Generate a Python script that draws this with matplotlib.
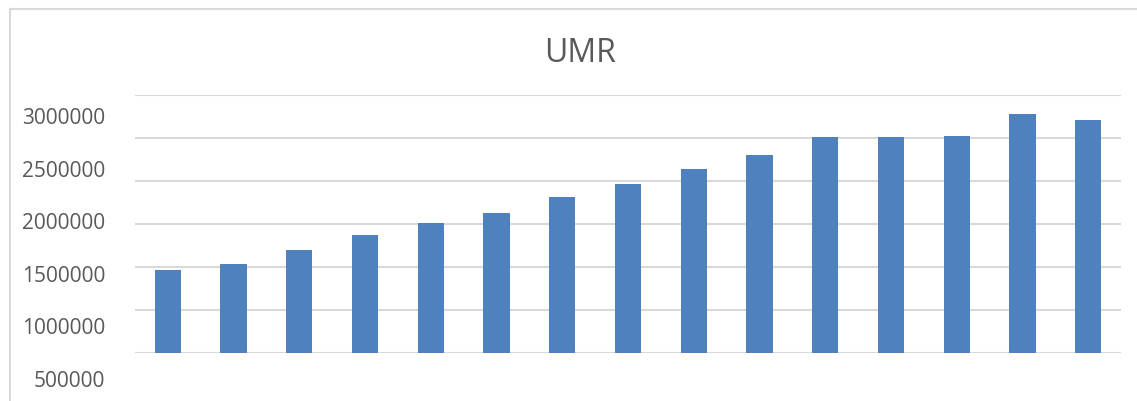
import matplotlib.pyplot as plt
from matplotlib.lines import Line2D

# UMR values (axis bottom is 500000)
categories = list(range(1, 16))
umr = [1465000, 1535000, 1698000, 1872000, 2012000, 2128000, 2314000, 2465000,
       2640000, 2802000, 3012000, 3012000, 3025000, 3279000, 3209000]
tick_values = [500000, 1000000, 1500000, 2000000, 2500000, 3000000]
tick_labels = [str(v) for v in tick_values]

plt.rcParams['font.family'] = ['Open Sans', 'DejaVu Sans']

W, H = 1137, 401
fig = plt.figure(figsize=(W / 100, H / 100), dpi=100)

# bar area
ax = fig.add_axes([135 / W, (H - 353) / H, 986 / W, 258.5 / H])
ax.bar(categories, umr, width=0.4, color='#4f81bd', zorder=3)
ax.set_xlim(0.5, 15.5)
ax.set_ylim(500000, 3502000)
ax.set_yticks(range(500000, 3500001, 500000))
ax.yaxis.grid(True, color='#d9d9d9', linewidth=1.5)
ax.set_axisbelow(True)
ax.tick_params(left=False, bottom=False, labelleft=False, labelbottom=False)
for s in ax.spines.values():
    s.set_visible(False)

# value labels sit a bit off the gridlines in the original, so they get their own axis
lab = fig.add_axes([135 / W, (H - 379) / H, 0.001, 263 / H])
lab.set_ylim(500000, 3000000)
lab.set_yticks(tick_values)
lab.set_yticklabels(tick_labels)
lab.tick_params(left=False, bottom=False, labelbottom=False, labelsize=15,
                labelcolor='#595959', pad=18)
lab.patch.set_visible(False)
for s in lab.spines.values():
    s.set_visible(False)

fig.text(580 / W, 1 - 54 / H, 'UMR', ha='center', va='center',
         fontsize=23, color='#595959')

# chart frame (only top and left edges show in the crop)
fig.add_artist(Line2D([10 / W, 1], [1 - 9 / H, 1 - 9 / H], color='#d9d9d9', linewidth=1.5))
fig.add_artist(Line2D([10 / W, 10 / W], [0, 1 - 9 / H], color='#d9d9d9', linewidth=1.5))

fig.savefig('out.png', dpi=100)
